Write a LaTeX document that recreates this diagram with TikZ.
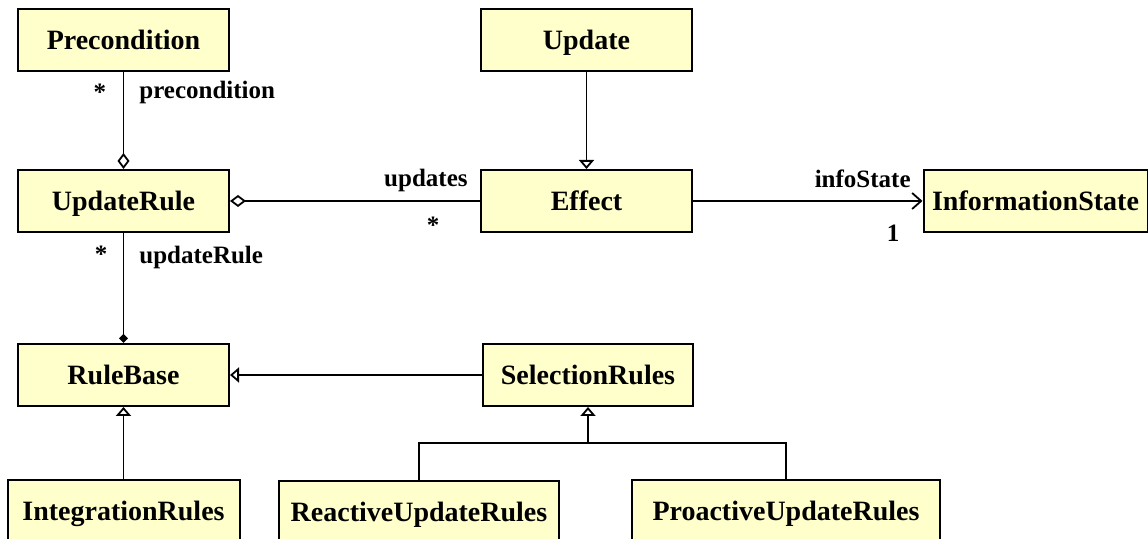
\documentclass[tikz,border=0pt]{standalone}
\usepackage{fontspec}
\setmainfont{Liberation Serif}
\usepackage{xcolor}
\usepackage{tikz}
\usetikzlibrary{arrows.meta}

\definecolor{clsfill}{RGB}{255,255,204}

\begin{document}
\begin{tikzpicture}[x=0.5pt,y=-0.5pt,
  cls/.style={draw, line width=1pt, fill=clsfill, inner sep=0pt, minimum height=31pt,
    text height=12pt, text depth=2pt,
    font=\bfseries\fontsize{14}{16}\selectfont},
  lbl/.style={inner sep=0pt, font=\bfseries\fontsize{12.5}{14}\selectfont},
  link/.style={line width=0.9pt},
  inherit/.style={link, -{Triangle[open,length=4.5pt,width=7.5pt]}},
  aggr/.style={link, -{Diamond[open,length=8pt,width=6pt]}},
  compo/.style={link, -{Diamond[length=4.5pt,width=4.5pt]}}]

% Fix the picture size
\useasboundingbox (0,0) rectangle (1148,539);

% Define the classes: name/x/y/width/text
\foreach \name/\x/\y/\w/\txt in {pre/123.5/40/105.5/Precondition,
    upd/586.5/40/105.5/Update,
    rule/123.5/201/105.5/UpdateRule,
    eff/586.5/201/105.5/Effect,
    info/1035.5/201/112/InformationState,
    base/123.5/375/105.5/RuleBase,
    sel/588/375/105/SelectionRules,
    integ/123.5/511/116/IntegrationRules,
    react/419/512/140/ReactiveUpdateRules,
    proact/786/511/154/ProactiveUpdateRules} {
    \node[cls, minimum width=\w pt] (\name) at (\x,\y) {\txt};
}

% Draw the associations
\draw[aggr] (pre) -- (rule);
\draw[link, {Diamond[open,length=8pt,width=6pt]}-] (rule) -- (eff);
\draw[inherit] (upd) -- (eff);
\draw[link, -{Straight Barb[length=4.5pt,width=8pt]}] (eff) -- (info);
\draw[compo] (rule) -- (base);

% Draw the generalisations
\draw[inherit] (sel) -- (base);
\draw[inherit] (integ) -- (base);
\coordinate (join) at (588,443);
\draw[link] (react.north) |- (join) -| (proact.north);
\draw[inherit] (join) -- (sel.south);

% Add role names and multiplicities
\node[lbl, anchor=base west] (preRole) at (139,99) {precondition};
\node[lbl, anchor=base] (preMult) at (100,101) {*};
\node[lbl, anchor=base west] (ruleRole) at (139,264) {updateRule};
\node[lbl, anchor=base] (ruleMult) at (101,263) {*};
\node[lbl, anchor=base east] (effRole) at (468,187) {updates};
\node[lbl, anchor=base] (effMult) at (433,234) {*};
\node[lbl, anchor=base east] (infoRole) at (911,188) {infoState};
\node[lbl, anchor=base] (infoMult) at (893,242) {1};

\end{tikzpicture}
\end{document}
